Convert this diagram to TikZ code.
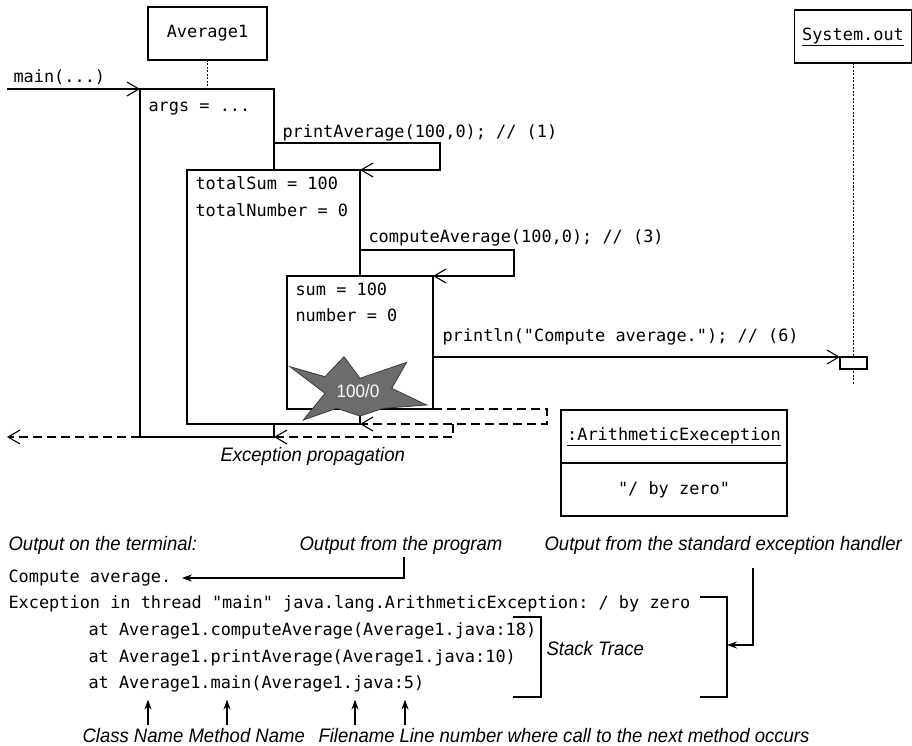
\documentclass[tikz,border=0pt]{standalone}
\usepackage{fontspec}
\setmonofont{DejaVu Sans Mono}
\newfontfamily\notefont{Liberation Sans}[FakeStretch=0.95]
\usepackage{tikz}
\usetikzlibrary{arrows.meta, positioning, calc}
\definecolor{burst}{RGB}{108,108,108}
\definecolor{burstline}{RGB}{60,60,60}
\newcommand{\codesize}{\fontsize{16.9pt}{20pt}\ttfamily}
\newcommand{\notesize}{\fontsize{19.5pt}{22pt}\notefont\itshape}
\newcommand{\burstsize}{\fontsize{18pt}{20pt}\notefont}
\tikzset{
    obj/.style={draw, rectangle, inner sep=0pt, outer sep=0pt, font=\codesize},
    act/.style={draw, fill=white, inner sep=0pt, outer sep=0pt, anchor=north west},
    code/.style={inner sep=0pt, anchor=west, font=\codesize, text height=12.5pt, text depth=3.5pt},
    note/.style={inner sep=0pt, anchor=west, font=\notesize, text height=14pt, text depth=4pt},
    call/.style={-{Straight Barb[length=12pt, width=14pt]}},
    ret/.style={dash pattern=on 9pt off 5pt, -{Straight Barb[length=12pt, width=14pt]}},
    life/.style={dash pattern=on 2pt off 1.5pt, line width=0.8pt},
    point/.style={-{Stealth[length=10pt, width=7pt]}},
}

\begin{document}
\begin{tikzpicture}[x=1pt, y=-1pt, line width=1.1pt]
    \useasboundingbox (0,0) rectangle (912,746);

    % objects and lifelines
    \node[obj, minimum width=119pt, minimum height=53pt] (avg) at (207.5,33.5) {Average1};
    \node[obj, minimum width=117pt, minimum height=53pt] (sysout) at (853,36.5) {\underline{System.out}};
    \coordinate (sysend) at (853,385);
    \draw[life] (sysout.south) -- (sysend);

    % activations
    \node[act, minimum width=134pt, minimum height=348pt] (act1) at (140,89) {};
    \draw[life] (avg.south) -- (avg.south |- act1.north);
    \node[act, minimum width=173pt, minimum height=254pt] (act2) at (187,170) {};
    \node[act, minimum width=146pt, minimum height=133pt] (act3) at (287,276) {};
    \node[act, minimum width=27pt, minimum height=12pt] (outbox) at (840,357) {};

    \node[code] (args) at (148,107) {args = ...};
    \node[code] (tsum) at (195,185) {totalSum = 100};
    \node[code] (tnum) at (195,212) {totalNumber = 0};
    \node[code] (sum) at (295,291) {sum = 100};
    \node[code] (num) at (295,317) {number = 0};

    % calls
    \coordinate (mainin) at (7,89);
    \draw[call] (mainin) -- (act1.north west);
    \node[code] (mainlbl) at (13,78) {main(...)};

    \coordinate (pa) at (274,143);
    \draw[call] (pa) -- ++(166,0) |- (act2.north east);
    \node[code] (palbl) at (282,133) {printAverage(100,0); // (1)};

    \coordinate (ca) at (360,250);
    \draw[call] (ca) -- ++(154,0) |- (act3.north east);
    \node[code] (calbl) at (368,238) {computeAverage(100,0); // (3)};

    \draw[call] (act3.east |- outbox.north west) -- (outbox.north west);
    \node[code] (pllbl) at (442,337) {println("Compute average."); // (6)};

    % exception
    \filldraw[fill=burst, draw=burstline, line width=0.8pt] (290,366.7) -- (325,376.7) -- (344,356.7)
        -- (360,378.3) -- (406.7,362.3) -- (391.7,388.3) -- (426.7,405) -- (383.3,408.3)
        -- (360,416) -- (336.7,408.3) -- (303.3,420) -- (325,393.3) -- cycle;
    \node[text=white, font=\burstsize] (div) at (358,391) {100/0};

    \draw[ret] (act3.south east) -- ++(114,0) |- (act2.south east);
    \coordinate (r2) at (453,424);
    \draw[ret] (r2) |- (act1.south east);
    \coordinate (exitpt) at (7,437);
    \draw[ret] (act1.south west) -- (exitpt);
    \node[note] (prop) at (220,456) {Exception propagation};

    \node[obj, minimum width=226pt, minimum height=53pt] (exhead) at (674,436.5) {\underline{:ArithmeticExeception}};
    \node[obj, minimum width=226pt, minimum height=53pt, below=0pt of exhead] (exbody) {"/ by zero"};

    % terminal output
    \node[note] (term) at (8,545) {Output on the terminal:};
    \node[note] (prog) at (299,545) {Output from the program};
    \node[note] (handler) at (544,545) {Output from the standard exception handler};

    \node[code] (row1) at (8,578) {Compute average.};
    \node[code] (row2) at (8,604) {Exception in thread "main" java.lang.ArithmeticException: / by zero};
    \node[code] (row3) at (88,631) {at Average1.computeAverage(Average1.java:18)};
    \node[code] (row4) at (88,658) {at Average1.printAverage(Average1.java:10)};
    \node[code] (row5) at (88,684) {at Average1.main(Average1.java:5)};

    \draw (700,597) -| (727,697) -- (700,697);
    \draw (513,617) -| (541,697) -- (513,697);
    \node[note] (stack) at (546,650) {Stack Trace};

    \coordinate (pfoot) at (404,557);
    \draw[point] (pfoot) |- ([xshift=10pt]row1.east);
    \coordinate (hfoot) at (753,568);
    \coordinate (bigbrk) at (727,645);
    \draw[point] (hfoot) |- (bigbrk);

    \node[note] (cls) at (82,737) {Class Name};
    \node[note] (meth) at (188,737) {Method Name};
    \node[note] (file) at (318,737) {Filename};
    \node[note] (line) at (399,737) {Line number where call to the next method occurs};

    \coordinate (clsfoot) at (148,725);
    \coordinate (methfoot) at (227,725);
    \coordinate (filefoot) at (355,725);
    \coordinate (linefoot) at (405,725);
    \draw[point, shorten >=7pt] (clsfoot) -- (clsfoot |- row5.south);
    \draw[point, shorten >=7pt] (methfoot) -- (methfoot |- row5.south);
    \draw[point, shorten >=7pt] (filefoot) -- (filefoot |- row5.south);
    \draw[point, shorten >=7pt] (linefoot) -- (linefoot |- row5.south);
\end{tikzpicture}
\end{document}
